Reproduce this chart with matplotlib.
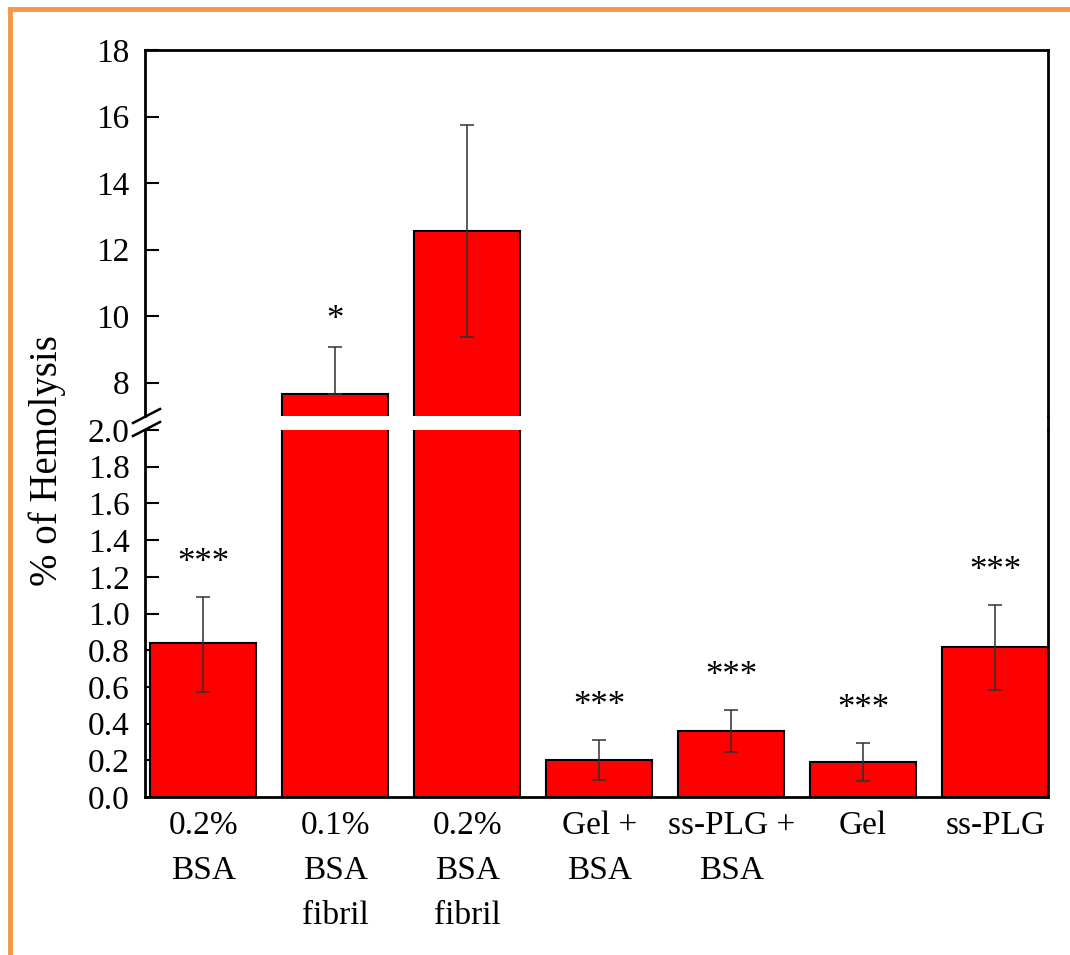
import numpy as np
import matplotlib.pyplot as plt
from matplotlib.lines import Line2D

plt.rcParams['font.family'] = ['Liberation Serif', 'DejaVu Serif']
plt.rcParams['font.size'] = 24

# hemolysis data
groups = ["0.2%\nBSA", "0.1%\nBSA\nfibril", "0.2%\nBSA\nfibril", "Gel +\nBSA",
          "ss-PLG +\nBSA", "Gel", "ss-PLG"]
hemolysis = [0.84, 7.65, 12.55, 0.20, 0.36, 0.19, 0.82]
err_low = [0.27, 0.0, 3.18, 0.11, 0.115, 0.105, 0.235]
err_high = [0.25, 1.42, 3.20, 0.11, 0.115, 0.105, 0.225]
stars = ["***", "*", "", "***", "***", "***", "***"]

fig = plt.figure(figsize=(10.7, 9.55), dpi=100)
W, H = 1070.0, 955.0

def px_box(x0, y0, x1, y1):
    return [x0 / W, 1 - y1 / H, (x1 - x0) / W, (y1 - y0) / H]

ax_top = fig.add_axes(px_box(145, 50, 1048, 416))
ax_bot = fig.add_axes(px_box(145, 430, 1048, 797))

x = np.arange(len(groups))
for ax in (ax_top, ax_bot):
    ax.bar(x, hemolysis, width=0.8, color='#ff0000', edgecolor='black', linewidth=1.5, zorder=2)
    ax.errorbar(x, hemolysis, yerr=[err_low, err_high], fmt='none', ecolor='#303030',
                elinewidth=1.1, capsize=5, capthick=1.1, zorder=3)
    ax.set_xlim(-0.44, 6.4)
    ax.tick_params(axis='y', direction='in', length=10, width=1.5, pad=11, right=False)
    for s in ax.spines.values():
        s.set_linewidth(2)

ax_top.set_ylim(7, 18)
ax_top.set_yticks([8, 10, 12, 14, 16, 18])
ax_top.spines['bottom'].set_visible(False)
ax_top.set_xticks([])

ax_bot.set_ylim(0, 2.0)
ax_bot.set_yticks(np.arange(0, 2.01, 0.2))
ax_bot.set_yticklabels(["%.1f" % v for v in np.arange(0, 2.01, 0.2)])
ax_bot.spines['top'].set_visible(False)
ax_bot.set_xticks(x)
ax_bot.set_xticklabels(groups, linespacing=1.6)
ax_bot.tick_params(axis='x', length=0, pad=10)

# significance stars above the error bars
for i, s in enumerate(stars):
    if not s:
        continue
    top = hemolysis[i] + err_high[i]
    if hemolysis[i] > 2:
        ax, off = ax_top, 13
    else:
        ax, off = ax_bot, 18
    ax.annotate(s, (x[i], top), xytext=(0, off), textcoords='offset points',
                ha='center', va='baseline', fontsize=25)

# right spine runs through the break
fig.add_artist(Line2D([1048 / W, 1048 / W], [1 - 416 / H, 1 - 430 / H], color='black', lw=2))

# break marks on the left axis
for yb in (416, 429):
    fig.add_artist(Line2D([133 / W, 160 / W], [1 - (yb + 7) / H, 1 - (yb - 7) / H],
                          color='black', lw=1.8))

fig.text(47 / W, 1 - 461 / H, "% of Hemolysis", rotation=90, ha='center', va='center', fontsize=28)

# orange frame
fig.add_artist(Line2D([9.5 / W, 9.5 / W], [0, 1 - 9.5 / H], color='#f79646', lw=3.5))
fig.add_artist(Line2D([9.5 / W, 1], [1 - 9.5 / H, 1 - 9.5 / H], color='#f79646', lw=3.5))

fig.savefig("out.png", dpi=100)
